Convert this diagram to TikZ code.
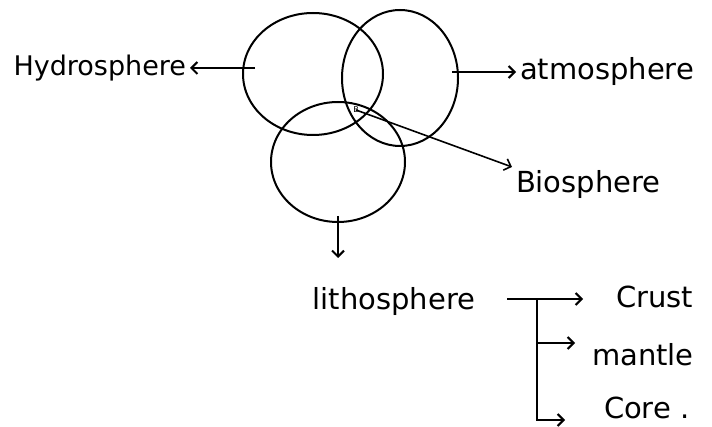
\documentclass[tikz,border=0pt]{standalone}
\usepackage{fontspec}
\setmainfont{DejaVu Sans}
\usetikzlibrary{arrows.meta,shapes.geometric,positioning}

\begin{document}
\begin{tikzpicture}[x=1pt,y=-1pt,line width=2pt,>={Straight Barb[length=6pt,width=12pt]}]
 \tikzset{sphere/.style={draw,ellipse,inner sep=0pt},
  lbl/.style={font=\fontsize{29}{32}\selectfont,inner sep=3pt}}
 \useasboundingbox (0,0) rectangle (712,427);
 % the three spheres
 \node[sphere,minimum width=140pt,minimum height=122pt] (hydro) at (313,74) {};
 \node[sphere,minimum width=116pt,minimum height=136pt] (atmo) at (400,78) {};
 \node[sphere,minimum width=134pt,minimum height=120pt] (litho) at (338,162) {};
 \node[font=\fontsize{8}{9}\selectfont,inner sep=0pt] (bmark) at (356,110) {B};
 % labels
 \node[lbl,anchor=east,font=\fontsize{27}{30}\selectfont] (hydlab) at (190,68) {Hydrosphere};
 \node[lbl,anchor=west] (atmlab) at (516,72) {atmosphere};
 \node[lbl,anchor=west] (biolab) at (512,185) {Biosphere};
 \node[lbl] (lithlab) at (394,302) {lithosphere};
 \node[lbl,anchor=west] (crust) at (612,297) {Crust};
 \node[lbl,anchor=west] (mantle) at (588,355) {mantle};
 \node[lbl,anchor=west] (core) at (600,408) {Core .};
 \coordinate (hyd-in) at (255,68);
 \coordinate (atm-in) at (452,72);
 \coordinate (lith-tip) at (338,258);
 \coordinate (br-start) at (507,299);
 \coordinate (br-knee) at (537,299);
 \coordinate (br-mid) at (537,343);
 \coordinate (br-end) at (537,420);
 % arrows
 \draw[->] (hyd-in) -- (hydlab.east);
 \draw[->] (atm-in) -- (atmlab.west);
 \draw[->,line width=1.6pt] (bmark.center) -- (biolab.north west);
 \draw[->] ([yshift=7pt]litho.south) -- (lith-tip);
 \draw[->,shorten >=29pt] (br-start) -- (br-start -| crust.west);
 \draw[->,shorten >=13pt] (br-mid) -- (br-mid -| mantle.west);
 \draw[->,shorten >=35pt] (br-knee) |- (br-end -| core.west);
\end{tikzpicture}
\end{document}
